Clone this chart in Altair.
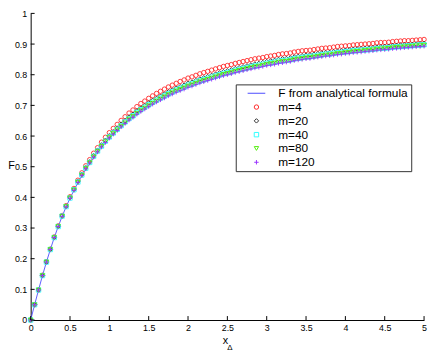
import altair as alt
import pandas as pd

X = [0.00,0.05,0.10,0.15,0.20,0.25,0.30,0.35,0.40,0.45,0.50,0.55,0.60,0.65,0.70,0.75,0.80,0.85,0.90,0.95,
     1.00,1.05,1.10,1.15,1.20,1.25,1.30,1.35,1.40,1.45,1.50,1.55,1.60,1.65,1.70,1.75,1.80,1.85,1.90,1.95,
     2.00,2.05,2.10,2.15,2.20,2.25,2.30,2.35,2.40,2.45,2.50,2.55,2.60,2.65,2.70,2.75,2.80,2.85,2.90,2.95,
     3.00,3.05,3.10,3.15,3.20,3.25,3.30,3.35,3.40,3.45,3.50,3.55,3.60,3.65,3.70,3.75,3.80,3.85,3.90,3.95,
     4.00,4.05,4.10,4.15,4.20,4.25,4.30,4.35,4.40,4.45,4.50,4.55,4.60,4.65,4.70,4.75,4.80,4.85,4.90,4.95,5.00]

F_ANALYTIC = [0.000,0.050,0.098,0.145,0.189,0.230,0.269,0.305,0.338,0.369,0.397,0.423,0.448,0.471,0.492,0.511,0.530,0.547,0.563,0.578,0.592,
              0.605,0.617,0.629,0.640,0.651,0.660,0.670,0.679,0.687,0.695,0.703,0.710,0.717,0.723,0.730,0.736,0.742,0.747,0.752,0.758,
              0.762,0.767,0.772,0.776,0.780,0.784,0.788,0.792,0.796,0.799,0.802,0.806,0.809,0.812,0.815,0.818,0.821,0.823,0.826,0.829,
              0.831,0.833,0.836,0.838,0.840,0.842,0.845,0.847,0.849,0.851,0.852,0.854,0.856,0.858,0.860,0.861,0.863,0.865,0.866,0.868,
              0.869,0.871,0.872,0.873,0.875,0.876,0.877,0.879,0.880,0.881,0.882,0.884,0.885,0.886,0.887,0.888,0.889,0.890,0.891,0.892]

F_M4 = [0.000,0.050,0.098,0.146,0.190,0.231,0.271,0.307,0.341,0.373,0.402,0.429,0.456,0.480,0.503,0.523,0.544,0.562,0.580,0.596,0.611,
        0.625,0.638,0.651,0.663,0.675,0.685,0.696,0.706,0.714,0.723,0.731,0.739,0.746,0.753,0.760,0.766,0.772,0.778,0.783,0.789,
        0.793,0.798,0.803,0.807,0.811,0.815,0.819,0.823,0.827,0.830,0.833,0.837,0.840,0.843,0.846,0.849,0.852,0.854,0.856,0.859,
        0.861,0.863,0.866,0.868,0.869,0.871,0.874,0.876,0.878,0.879,0.880,0.882,0.884,0.886,0.887,0.888,0.890,0.892,0.893,0.894,
        0.895,0.897,0.898,0.899,0.900,0.901,0.902,0.904,0.905,0.905,0.906,0.908,0.909,0.910,0.911,0.911,0.912,0.913,0.914,0.915]

F_M20 = [0.000,0.050,0.098,0.145,0.189,0.230,0.270,0.306,0.339,0.371,0.399,0.426,0.452,0.475,0.497,0.516,0.536,0.554,0.571,0.586,0.601,
         0.614,0.626,0.639,0.650,0.662,0.671,0.682,0.691,0.699,0.708,0.716,0.723,0.730,0.737,0.744,0.750,0.756,0.761,0.766,0.772,
         0.776,0.781,0.786,0.790,0.794,0.798,0.802,0.806,0.810,0.813,0.816,0.820,0.823,0.826,0.829,0.832,0.835,0.837,0.840,0.843,
         0.845,0.847,0.850,0.852,0.853,0.855,0.858,0.860,0.862,0.864,0.865,0.867,0.869,0.871,0.872,0.873,0.875,0.877,0.878,0.880,
         0.881,0.883,0.884,0.885,0.886,0.887,0.888,0.890,0.891,0.892,0.893,0.895,0.896,0.897,0.898,0.898,0.899,0.900,0.901,0.902]

F_M40 = [0.000,0.050,0.098,0.145,0.189,0.230,0.269,0.305,0.339,0.370,0.398,0.425,0.450,0.473,0.495,0.514,0.534,0.551,0.567,0.583,0.597,
         0.610,0.622,0.634,0.646,0.657,0.666,0.677,0.686,0.694,0.702,0.710,0.717,0.724,0.731,0.738,0.744,0.750,0.755,0.760,0.766,
         0.770,0.775,0.780,0.784,0.788,0.792,0.796,0.800,0.804,0.807,0.810,0.814,0.817,0.820,0.823,0.826,0.829,0.831,0.834,0.837,
         0.839,0.841,0.844,0.846,0.847,0.849,0.852,0.854,0.856,0.858,0.859,0.861,0.863,0.865,0.867,0.868,0.870,0.872,0.873,0.875,
         0.876,0.878,0.879,0.880,0.881,0.882,0.883,0.885,0.886,0.887,0.888,0.890,0.891,0.892,0.893,0.894,0.895,0.896,0.897,0.898]

F_M80 = [0.000,0.050,0.098,0.145,0.189,0.230,0.269,0.305,0.338,0.370,0.398,0.424,0.449,0.472,0.494,0.513,0.532,0.549,0.566,0.581,0.595,
         0.608,0.620,0.632,0.643,0.655,0.664,0.674,0.683,0.691,0.699,0.707,0.714,0.721,0.728,0.735,0.741,0.747,0.752,0.757,0.763,
         0.767,0.772,0.777,0.781,0.785,0.789,0.793,0.797,0.801,0.804,0.807,0.811,0.814,0.817,0.820,0.823,0.826,0.828,0.831,0.834,
         0.836,0.838,0.841,0.843,0.844,0.846,0.849,0.851,0.853,0.855,0.856,0.858,0.860,0.862,0.864,0.865,0.867,0.869,0.870,0.872,
         0.873,0.875,0.876,0.877,0.879,0.880,0.881,0.883,0.884,0.885,0.886,0.888,0.889,0.890,0.891,0.892,0.893,0.894,0.895,0.896]

F_M120 = [0.000,0.050,0.098,0.145,0.189,0.230,0.269,0.305,0.338,0.369,0.397,0.423,0.448,0.471,0.493,0.512,0.531,0.548,0.564,0.579,0.593,
          0.606,0.618,0.630,0.641,0.652,0.661,0.671,0.680,0.688,0.696,0.704,0.711,0.718,0.724,0.731,0.737,0.743,0.748,0.753,0.759,
          0.763,0.768,0.773,0.777,0.781,0.785,0.789,0.793,0.797,0.800,0.803,0.807,0.810,0.813,0.816,0.819,0.822,0.824,0.827,0.830,
          0.832,0.834,0.837,0.839,0.841,0.843,0.846,0.848,0.850,0.852,0.853,0.855,0.857,0.859,0.861,0.862,0.864,0.866,0.867,0.869,
          0.870,0.872,0.873,0.874,0.876,0.877,0.878,0.880,0.881,0.882,0.883,0.885,0.886,0.887,0.888,0.889,0.890,0.891,0.892,0.893]

SERIES = ["F from analytical formula", "m=4", "m=20", "m=40", "m=80", "m=120"]
COLORS = ["#4b4bff", "#ff2a2a", "#303030", "#33ffff", "#55ee11", "#9933ff"]
SHAPES = ["M-4,0L4,0", "circle", "diamond", "square", "triangle-down", "M-1,0L1,0M0,-1L0,1"]
X_TICKS = [0, 0.5, 1, 1.5, 2, 2.5, 3, 3.5, 4, 4.5, 5]
Y_TICKS = [0, 0.1, 0.2, 0.3, 0.4, 0.5, 0.6, 0.7, 0.8, 0.9, 1]

W, H = 399, 311
FONT = "Liberation Sans"

line_df = pd.DataFrame({"x": X, "F": F_ANALYTIC, "series": SERIES[0]})
pts = []
for name, vals in zip(SERIES[1:], [F_M4, F_M20, F_M40, F_M80, F_M120]):
    pts.append(pd.DataFrame({"x": X, "F": vals, "series": name}))
pts_df = pd.concat(pts, ignore_index=True)
pts_df["order"] = pts_df["series"].map({s: i for i, s in enumerate(SERIES)})

xscale = alt.Scale(domain=[0, 5], nice=False, zero=False)
yscale = alt.Scale(domain=[0, 1], nice=False, zero=False)

legend = alt.Legend(
    title=None, orient="none", legendX=208, legendY=72,
    labelFont=FONT, labelFontSize=12, labelColor="black",
    symbolSize=20, symbolStrokeWidth=1, symbolOffset=12, labelOffset=16,
    rowPadding=2, padding=3, strokeColor="#333333", fillColor="white",
)
color = alt.Color("series:N", scale=alt.Scale(domain=SERIES, range=COLORS), legend=legend, sort=SERIES)
shape = alt.Shape("series:N", scale=alt.Scale(domain=SERIES, range=SHAPES), legend=legend, sort=SERIES)

common_axis = dict(format="~g", ticks=False, grid=False, domainColor="black",
                   labelFont=FONT, labelFontSize=9, labelColor="black", labelPadding=4,
                   labelOverlap=False, labelFlush=False,
                   titleFont=FONT, titleFontSize=11, titleFontWeight="normal", titleColor="black")
xaxis = alt.Axis(values=X_TICKS, title="x", titleX=197, titleY=24,
                 titleBaseline="alphabetic", titleAlign="center", **common_axis)
yaxis = alt.Axis(values=Y_TICKS, title="F", titleAngle=0, titleX=-20, titleY=154,
                 titleBaseline="middle", titleAlign="center", **common_axis)


def X_ENC(field):
    return alt.X(field, scale=xscale, axis=xaxis)


def Y_ENC(field):
    return alt.Y(field, scale=yscale, axis=yaxis)


line = alt.Chart(line_df).mark_line(strokeWidth=0.9).encode(
    x=X_ENC("x:Q"), y=Y_ENC("F:Q"), color=color,
)
points = alt.Chart(pts_df).mark_point(filled=False, size=20, strokeWidth=0.9, opacity=1).encode(
    x=X_ENC("x:Q"), y=Y_ENC("F:Q"), color=color, shape=shape,
    order=alt.Order("order:Q"),
)

xt = alt.Chart(pd.DataFrame({"x": X_TICKS})).mark_rule(color="black", strokeWidth=1).encode(
    x=X_ENC("x:Q"), y=alt.value(H), y2=alt.value(H - 4))
yt = alt.Chart(pd.DataFrame({"F": Y_TICKS})).mark_rule(color="black", strokeWidth=1).encode(
    y=Y_ENC("F:Q"), x=alt.value(0), x2=alt.value(4))

sub = alt.Chart(pd.DataFrame({"t": ["Δ"]})).mark_text(
    font=FONT, fontSize=8, baseline="alphabetic", align="center", color="black"
).encode(x=alt.value(202), y=alt.value(H + 30), text="t:N")

chart = alt.layer(line, points, xt, yt, sub).resolve_scale(color="shared", shape="shared").properties(
    width=W, height=H,
    autosize=alt.AutoSizeParams(type="none"),
    padding={"left": 23, "top": 3, "right": 4, "bottom": 33},
).configure_view(stroke=None).configure_axis(domainWidth=1)

chart.save("out.html", embed_options={"renderer": "svg", "actions": False})
